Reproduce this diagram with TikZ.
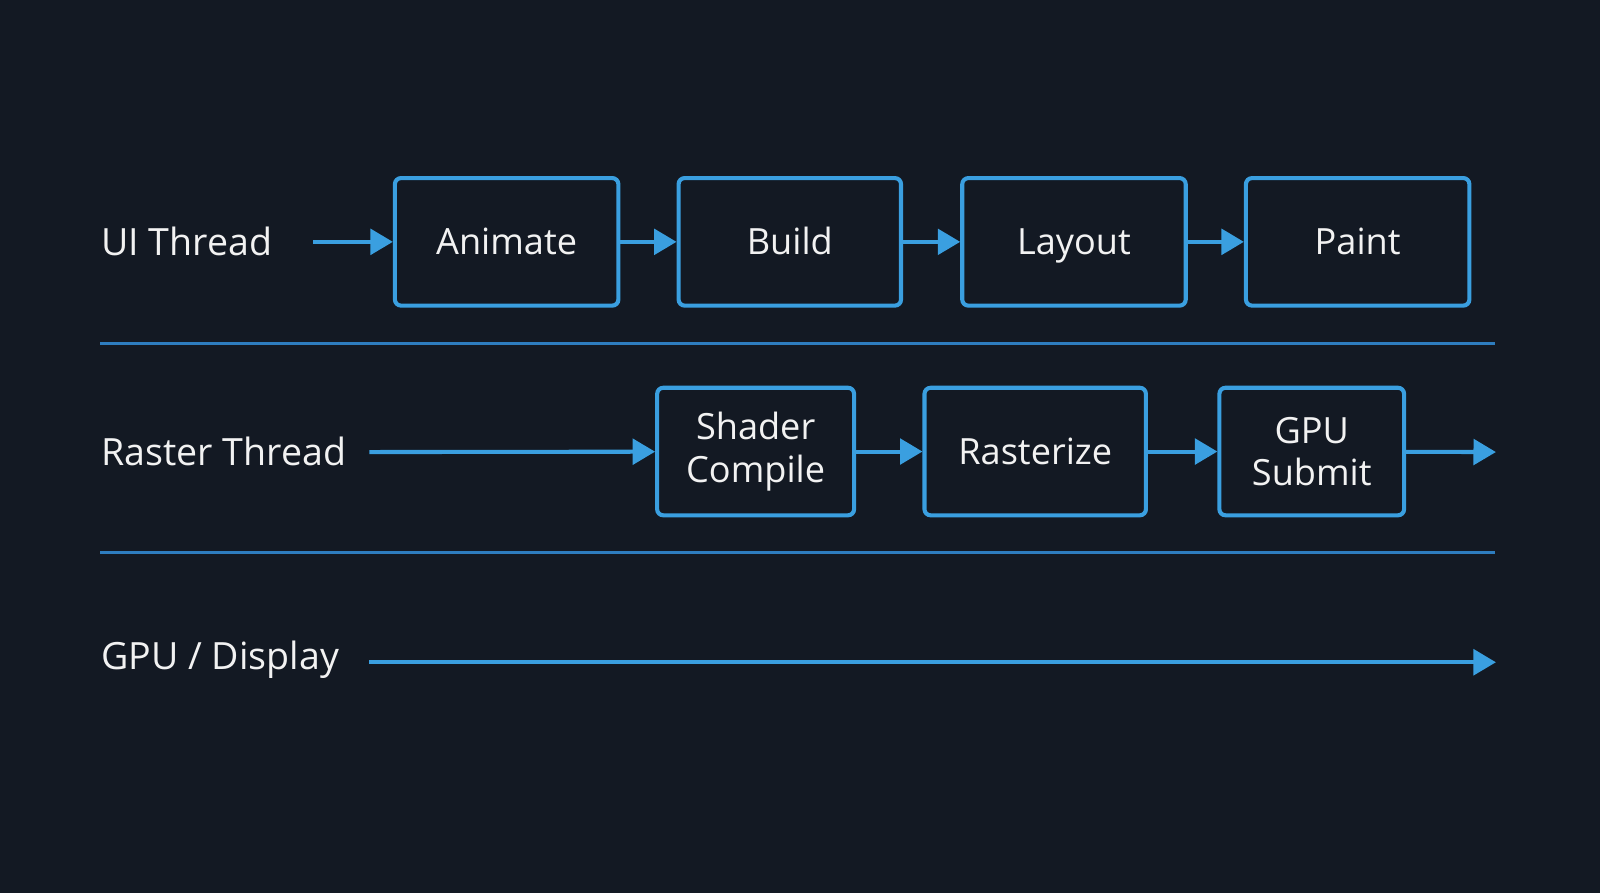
\documentclass[tikz,border=0pt]{standalone}
\usepackage{fontspec}
\setmainfont{Open Sans}
\usetikzlibrary{arrows.meta}
\definecolor{bg}{HTML}{131923}
\definecolor{accent}{HTML}{3A9FE0}
\definecolor{rule}{HTML}{2E7DBF}
\definecolor{ink}{HTML}{F2F2F2}
\tikzset{
  stage/.style={draw=accent, line width=2pt, rounded corners=3pt, text=ink,
    align=center, inner sep=0pt, font=\fontsize{17.7}{21}\selectfont},
  oneline/.style={text height=12.7pt, text depth=0pt},
  flow/.style={draw=accent, line width=2pt, -{Triangle[length=11pt,width=12.5pt]}},
  lane/.style={text=ink, anchor=west, inner sep=0pt, text height=13pt, text depth=0pt,
    font=\fontsize{18.4}{22}\selectfont},
}
\begin{document}
\begin{tikzpicture}[x=0.5pt, y=-0.5pt]
    \fill[bg] (0,0) rectangle (1568,875);
    \useasboundingbox (0,0) rectangle (1568,875);
    \node[lane] (ui) at (99,237) {UI Thread};
    \node[lane] (raster) at (99,443) {Raster Thread};
    \node[lane] (gpu) at (99,643) {GPU / Display};
    \coordinate (u0) at (307,237);
    \coordinate (r0) at (362,443);
    \coordinate (r4) at (1466,443);
    \coordinate (g0) at (362,649);
    \coordinate (g1) at (1466,649);
    \node[stage, oneline, minimum width=109.5pt, minimum height=62.5pt] (v1) at (496.5,237) {Animate};
    \node[stage, oneline, minimum width=109pt, minimum height=62.5pt] (v2) at (774,237) {Build};
    \node[stage, oneline, minimum width=109.5pt, minimum height=62.5pt] (v3) at (1052.5,237) {Layout};
    \node[stage, oneline, minimum width=109.5pt, minimum height=62.5pt] (v4) at (1330.5,237) {Paint};
    \node[stage, minimum width=96.5pt, minimum height=62.5pt] (w1) at (740.5,442.5) {Shader\\Compile};
    \node[stage, oneline, minimum width=108.5pt, minimum height=62.5pt] (w2) at (1014.5,442.5) {Rasterize};
    \node[stage, minimum width=90.5pt, minimum height=62.5pt] (w3) at (1285.5,442.5) {GPU\\Submit};
    \draw[flow] (u0) -- (v1);
    \draw[flow] (v1) -- (v2);
    \draw[flow] (v2) -- (v3);
    \draw[flow] (v3) -- (v4);
    \draw[flow] (r0) -- (w1);
    \draw[flow] (w1) -- (w2);
    \draw[flow] (w2) -- (w3);
    \draw[flow] (w3) -- (r4);
    \draw[flow] (g0) -- (g1);
    \draw[rule, line width=1.5pt] (98,337) -- (1465,337);
    \draw[rule, line width=1.5pt] (98,541) -- (1465,541);
\end{tikzpicture}
\end{document}
